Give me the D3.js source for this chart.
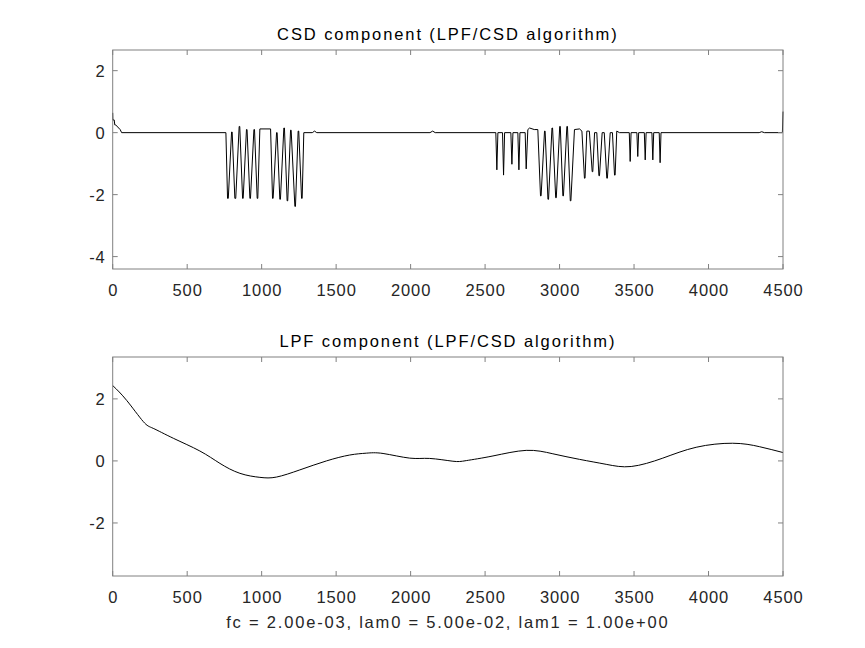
<!DOCTYPE html>
<meta charset="utf-8">
<script src="https://d3js.org/d3.v7.min.js"></script>
<style>
  body { margin: 0; background: #fff; }
  text { font-family: "Liberation Sans", Arial, sans-serif; }
</style>
<div id="chart"></div>
<script>

// CSD component breakpoints (sample index, value)
var csdX = [0, 1, 10, 14, 20, 50, 60, 760,
  771, 776, 798, 802, 820, 826, 849, 853, 872, 876, 898, 902, 921, 925, 948, 952, 970, 974,
  988, 1060, 1073, 1077, 1100, 1104, 1122, 1126, 1149, 1153, 1171, 1175, 1194, 1198, 1223, 1227,
  1245, 1249, 1268, 1272, 1283, 1340, 1355, 1370, 2130, 2148, 2165, 2572,
  2579, 2586, 2617, 2624, 2631, 2673, 2680, 2687, 2720, 2727, 2734, 2769, 2776, 2787, 2799, 2830, 2854,
  2872, 2876, 2899, 2903, 2922, 2926, 2949, 2953, 2974, 2978, 3001, 3005, 3022, 3026, 3049, 3053,
  3072, 3076, 3100, 3134, 3150, 3167, 3171, 3183, 3200, 3219, 3223, 3235, 3250, 3264, 3268, 3286,
  3300, 3317, 3321, 3340, 3355, 3369, 3373, 3384, 3402,
  3468, 3474, 3480, 3519, 3525, 3531, 3569, 3575, 3581, 3620, 3626, 3632, 3669, 3675, 3681,
  4340, 4357, 4375, 4496, 4500];
var csdY = [0.64, 0.41, 0.41, 0.25, 0.25, 0.1, 0, 0,
  -2.12, -2.12, 0.02, 0.02, -2.12, -2.12, 0.2, 0.2, -2.12, -2.12, 0.1, 0.1, -2.12, -2.12, 0.1, 0.1, -2.12, -2.12,
  0.12, 0.12, -2.12, -2.12, 0, 0, -2.15, -2.15, 0.15, 0.15, -2.2, -2.2, 0.08, 0.08, -2.38, -2.38,
  0.05, 0.05, -2.12, -2.12, 0, 0, 0.05, 0, 0, 0.05, 0, 0,
  -1.2, 0, 0, -1.37, 0, 0, -1.02, 0, 0, -1.2, 0, 0, -1.17, 0.1, 0.15, 0.1, 0.1,
  -2.04, -2.04, 0.05, 0.05, -2.15, -2.15, 0.15, 0.15, -2.1, -2.1, 0.2, 0.2, -2.04, -2.04, 0.2, 0.2,
  -2.2, -2.2, 0.1, 0.12, 0.05, -1.47, -1.47, 0.05, 0.05, -1.26, -1.26, 0, 0, -1.39, -1.39, 0,
  0, -1.47, -1.47, 0, 0, -1.37, -1.37, 0.05, 0,
  0, -0.93, 0, 0, -0.77, 0, 0, -0.88, 0, 0, -0.88, 0, 0, -0.97, 0,
  0, 0.03, 0, 0, 0.68];

// LPF component (sample index, value)
var lpfX = [0, 94, 205, 272, 407, 585, 720, 854, 988, 1100, 1256, 1435, 1591, 1703, 1815, 1994,
  2128, 2284, 2374, 2553, 2776, 2955, 3134, 3313, 3481, 3693, 3917, 4162, 4341, 4500];
var lpfY = [2.43, 1.95, 1.27, 1.05, 0.73, 0.32, -0.08, -0.40, -0.53, -0.52, -0.29, 0, 0.19, 0.25, 0.24, 0.09,
  0.08, -0.01, 0.01, 0.16, 0.34, 0.23, 0.05, -0.11, -0.18, 0.09, 0.44, 0.57, 0.46, 0.27];

var xTicks = [0, 500, 1000, 1500, 2000, 2500, 3000, 3500, 4000, 4500];
var topYTicks = [-4, -2, 0, 2];
var botYTicks = [-2, 0, 2];

var W = 865, H = 648;
var left = 112.7, right = 783;

var svg = d3.select("#chart").append("svg")
  .attr("width", W).attr("height", H);

var x = d3.scaleLinear().domain([0, 4500]).range([left, right]);

function panel(top, bottom, yDomain, yTicks, xs, ys, title, curve) {
  var y = d3.scaleLinear().domain(yDomain).range([bottom, top]);
  var g = svg.append("g");
  var frame = "#808080";

  // data line
  var pts = xs.map(function(d, i) { return [d, ys[i]]; });
  g.append("path")
    .datum(pts)
    .attr("fill", "none")
    .attr("stroke", "#000")
    .attr("stroke-width", 1)
    .attr("d", d3.line().x(function(d) { return x(d[0]); }).y(function(d) { return y(d[1]); }).curve(curve));

  // box
  g.append("rect")
    .attr("x", left).attr("y", top)
    .attr("width", right - left).attr("height", bottom - top)
    .attr("fill", "none").attr("stroke", frame).attr("stroke-width", 1);

  // mirrored inward ticks
  var tl = 5;
  xTicks.forEach(function(t) {
    g.append("line").attr("x1", x(t)).attr("x2", x(t)).attr("y1", bottom).attr("y2", bottom - tl).attr("stroke", frame);
    g.append("line").attr("x1", x(t)).attr("x2", x(t)).attr("y1", top).attr("y2", top + tl).attr("stroke", frame);
    g.append("text").attr("x", x(t) + 0.5).attr("y", bottom + 27)
      .attr("text-anchor", "middle").attr("font-size", "16.5px").attr("letter-spacing", "0.9px")
      .attr("fill", "#262626").text(t);
  });
  yTicks.forEach(function(t) {
    g.append("line").attr("x1", left).attr("x2", left + tl).attr("y1", y(t)).attr("y2", y(t)).attr("stroke", frame);
    g.append("line").attr("x1", right).attr("x2", right - tl).attr("y1", y(t)).attr("y2", y(t)).attr("stroke", frame);
    g.append("text").attr("x", left - 7).attr("y", y(t) + 6)
      .attr("text-anchor", "end").attr("font-size", "16.5px").attr("letter-spacing", "0.9px")
      .attr("fill", "#262626").text(t);
  });

  g.append("text").attr("x", (left + right) / 2).attr("y", top - 10)
    .attr("text-anchor", "middle").attr("font-size", "16.5px").attr("letter-spacing", "1.9px")
    .attr("fill", "#000").text(title);
  return y;
}

panel(50, 269, [-4.4, 2.667], topYTicks, csdX, csdY, "CSD component (LPF/CSD algorithm)", d3.curveLinear);
panel(357, 576, [-3.71, 3.35], botYTicks, lpfX, lpfY, "LPF component (LPF/CSD algorithm)", d3.curveNatural);

svg.append("text").attr("x", (left + right) / 2).attr("y", 628)
  .attr("text-anchor", "middle").attr("font-size", "16.5px").attr("letter-spacing", "1.8px")
  .attr("fill", "#262626")
  .text("fc = 2.00e-03, lam0 = 5.00e-02, lam1 = 1.00e+00");

</script>
